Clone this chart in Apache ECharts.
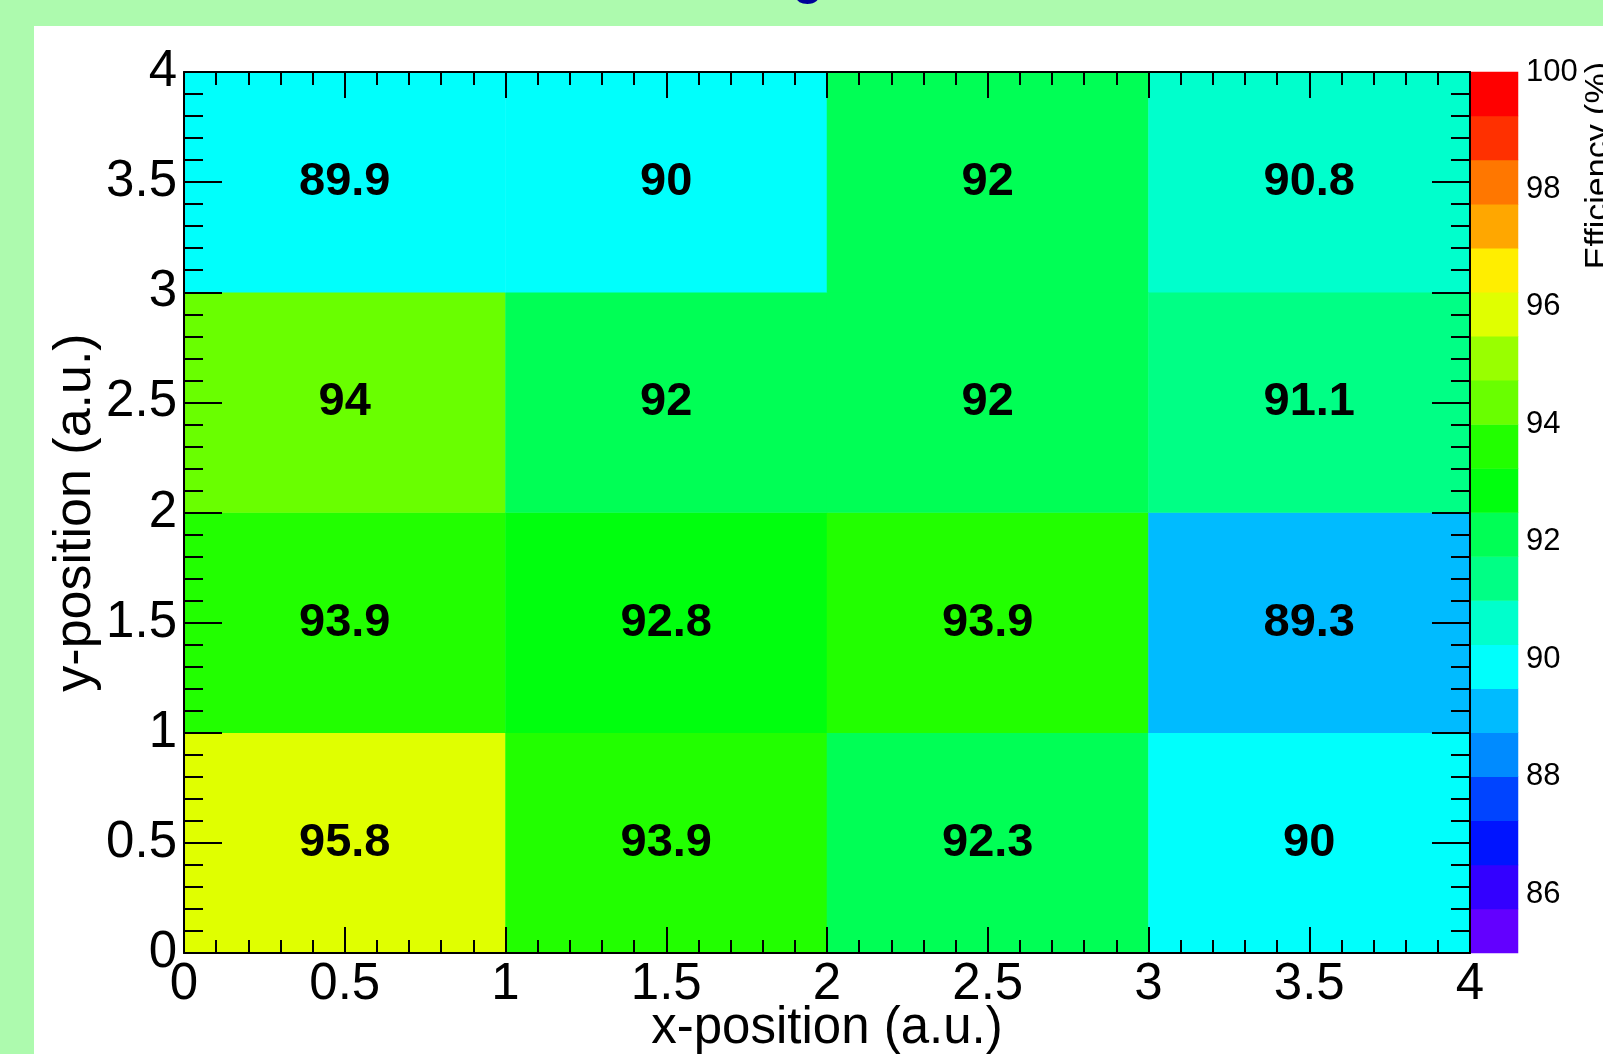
<!DOCTYPE html>
<html>
<head>
<meta charset="utf-8">
<title>Efficiency map</title>
<script src="https://cdn.jsdelivr.net/npm/echarts/dist/echarts.min.js"></script>
<style>
html,body{margin:0;padding:0;background:#adfaae;}
#chart{width:1603px;height:1054px;}
</style>
</head>
<body>
<div id="chart"></div>
<script>
// bin centres of the 4x4 map
var xBins = ['0.5', '1.5', '2.5', '3.5'];
var yBins = ['0.5', '1.5', '2.5', '3.5'];
// efficiency (%) per row, bottom row (y=0.5) first
var effRow0 = [95.8, 93.9, 92.3, 90];
var effRow1 = [93.9, 92.8, 93.9, 89.3];
var effRow2 = [94, 92, 92, 91.1];
var effRow3 = [89.9, 90, 92, 90.8];
// palette: 20 contour levels from 85 to 100
var zLevels = [85, 85.75, 86.5, 87.25, 88, 88.75, 89.5, 90.25, 91, 91.75, 92.5,
               93.25, 94, 94.75, 95.5, 96.25, 97, 97.75, 98.5, 99.25, 100];
var zColors = ['#6300ff', '#3300ff', '#0014ff', '#0044ff', '#008bff', '#00bbff', '#00fffc',
               '#00ffcc', '#00ff85', '#00ff55', '#00ff0e', '#22ff00', '#69ff00', '#99ff00',
               '#e0ff00', '#ffee00', '#ffa700', '#ff7700', '#ff3000', '#ff0000'];
// colour bar ticks and labels
var zTicks = [86, 88, 90, 92, 94, 96, 98];
var zLabels = [86, 88, 90, 92, 94, 96, 98, 100];

var font = 'Liberation Sans, Arial, Helvetica, sans-serif';

//把数据整理成热力图需要的格式
var rows = [effRow0, effRow1, effRow2, effRow3];
var mapData = [];
for (var j = 0; j < rows.length; j++) {
    for (var i = 0; i < rows[j].length; i++) {
        mapData.push([i, j, rows[j][i]]);
    }
}
var pieces = [], barData = [], bandNames = [];
for (var k = 0; k < zColors.length; k++) {
    var pc = {gte: zLevels[k], color: zColors[k]};
    if (k == zColors.length - 1) pc.lte = zLevels[k + 1]; else pc.lt = zLevels[k + 1];
    pieces.push(pc);
    bandNames.push(String(zLevels[k]));
    barData.push([0, k, (zLevels[k] + zLevels[k + 1]) / 2]);
}

var blackLine = {color: '#000', width: 2};
var chart = echarts.init(document.getElementById('chart'));
var option = {
    backgroundColor: '#adfaae',
    animation: false,
    graphic: [
        {type: 'rect', z: -10, shape: {x: 34, y: 26, width: 1569, height: 1028}, style: {fill: '#fff'}},
        {type: 'text', x: 808, y: 5, style: {text: 'g', font: 'bold 50px ' + font, fill: '#000099',
            textAlign: 'center', textVerticalAlign: 'bottom', align: 'center', verticalAlign: 'bottom'}},
        {type: 'text', x: 1599, y: 62, rotation: Math.PI / 2, style: {text: 'Efficiency (%)',
            font: '34px ' + font, fill: '#000', textAlign: 'right', textVerticalAlign: 'middle',
            align: 'right', verticalAlign: 'middle'}}
    ],
    grid: [
        {left: 184, top: 72, width: 1286, height: 881, outerBoundsMode: 'none'},
        {left: 184, top: 72, width: 1286, height: 881, outerBoundsMode: 'none'},
        {left: 1471, top: 72, width: 47, height: 881, outerBoundsMode: 'none'}
    ],
    visualMap: {
        type: 'piecewise',
        show: false,
        seriesIndex: [0, 1],
        dimension: 2,
        pieces: pieces
    },
    xAxis: [
        {gridIndex: 0, type: 'category', data: xBins, show: false},
        {
            gridIndex: 1, type: 'value', position: 'bottom', min: 0, max: 4, interval: 0.5, z: 5,
            axisLine: {onZero: false, lineStyle: blackLine},
            axisTick: {inside: true, length: 26, lineStyle: blackLine},
            minorTick: {show: true, splitNumber: 5, length: 13, lineStyle: blackLine},
            splitLine: {show: false},
            axisLabel: {fontSize: 51, color: '#000', fontFamily: font, margin: 6},
            name: 'x-position (a.u.)', nameLocation: 'middle', nameGap: 50, nameMoveOverlap: false,
            nameTextStyle: {fontSize: 51, color: '#000', fontFamily: font}
        },
        {
            gridIndex: 1, type: 'value', position: 'top', min: 0, max: 4, interval: 0.5, z: 5,
            axisLine: {onZero: false, lineStyle: blackLine},
            axisTick: {inside: true, length: 26, lineStyle: blackLine},
            minorTick: {show: true, splitNumber: 5, length: 13, lineStyle: blackLine},
            splitLine: {show: false},
            axisLabel: {show: false}
        },
        {gridIndex: 2, type: 'category', data: ['z'], show: false}
    ],
    yAxis: [
        {gridIndex: 0, type: 'category', data: yBins, show: false},
        {
            gridIndex: 1, type: 'value', position: 'left', min: 0, max: 4, interval: 0.5, z: 5,
            axisLine: {onZero: false, lineStyle: blackLine},
            axisTick: {inside: true, length: 38, lineStyle: blackLine},
            minorTick: {show: true, splitNumber: 5, length: 19, lineStyle: blackLine},
            splitLine: {show: false},
            axisLabel: {fontSize: 51, color: '#000', fontFamily: font, margin: 7},
            name: 'y-position (a.u.)', nameLocation: 'middle', nameRotate: 90, nameGap: 82,
            nameMoveOverlap: false,
            nameTextStyle: {fontSize: 52, color: '#000', fontFamily: font}
        },
        {
            gridIndex: 1, type: 'value', position: 'right', min: 0, max: 4, interval: 0.5, z: 5,
            axisLine: {onZero: false, lineStyle: blackLine},
            axisTick: {inside: true, length: 38, lineStyle: blackLine},
            minorTick: {show: true, splitNumber: 5, length: 19, lineStyle: blackLine},
            splitLine: {show: false},
            axisLabel: {show: false}
        },
        {gridIndex: 2, type: 'category', data: bandNames, show: false},
        {
            gridIndex: 2, type: 'value', position: 'right', min: 85, max: 100, z: 5,
            axisLine: {onZero: false, lineStyle: blackLine},
            axisTick: {inside: true, length: 38, lineStyle: blackLine, customValues: zTicks},
            splitLine: {show: false},
            axisLabel: {fontSize: 31, color: '#000', fontFamily: font, margin: 8, customValues: zLabels}
        }
    ],
    series: [
        {
            type: 'heatmap', xAxisIndex: 0, yAxisIndex: 0, data: mapData,
            itemStyle: {borderWidth: 0},
            label: {
                show: true, color: '#000', fontSize: 47, fontWeight: 'bold', fontFamily: font,
                formatter: function (p) { return String(p.value[2]); }
            },
            emphasis: {disabled: true}
        },
        {
            type: 'heatmap', xAxisIndex: 3, yAxisIndex: 3, data: barData,
            itemStyle: {borderWidth: 0},
            label: {show: false},
            emphasis: {disabled: true}
        }
    ]
};
chart.setOption(option);
</script>
</body>
</html>
